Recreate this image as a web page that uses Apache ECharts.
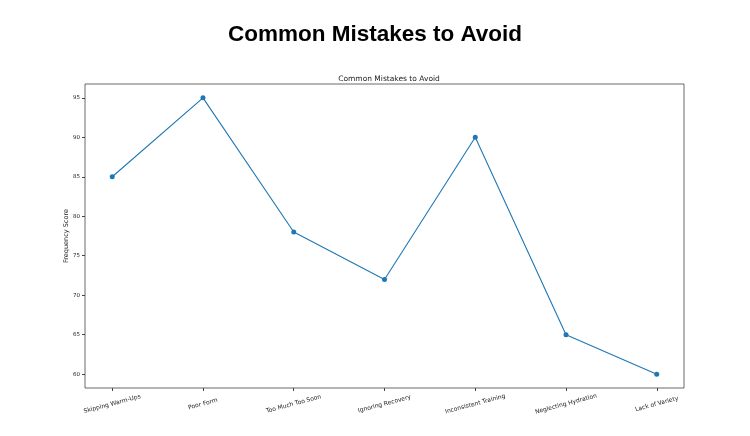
<!DOCTYPE html>
<html lang="en">
<head>
    <meta charset="UTF-8">
    <title>Common Mistakes to Avoid</title>
    <script src="https://cdn.jsdelivr.net/npm/echarts@6/dist/echarts.min.js"></script>
</head>
<style>
    body{
        width: 100%;
        height: 100%;
        margin: 0;
        padding: 0;
        background: #fff;
    }
</style>
<body>
<div id="main" style="width: 750px;height:436px;"></div>
<script>
    // data
    var mistakes = ['Skipping Warm-Ups', 'Poor Form', 'Too Much Too Soon', 'Ignoring Recovery',
        'Inconsistent Training', 'Neglecting Hydration', 'Lack of Variety'];
    var scores = [85, 95, 78, 72, 90, 65, 60];
    var yTicks = [60, 65, 70, 75, 80, 85, 90, 95];

    var xIndex = mistakes.map(function (m, i) { return i; });
    var points = scores.map(function (v, i) { return [i, v]; });

    var chart = echarts.init(document.getElementById('main'));
    var option = {
        animation: false,
        title: [{
            text: 'Common Mistakes to Avoid',
            left: 'center',
            top: 18,
            textStyle: {fontFamily: 'Liberation Sans', fontWeight: 'bold', fontSize: 22.5, color: '#000'}
        }, {
            text: 'Common Mistakes to Avoid',
            left: 384,
            textAlign: 'center',
            top: 70,
            textStyle: {fontFamily: 'DejaVu Sans', fontWeight: 'normal', fontSize: 7.5, color: '#222'}
        }],
        grid: {
            left: 85, right: 66, top: 84, bottom: 48,
            show: true, borderColor: '#444', borderWidth: 0.8, backgroundColor: '#fff'
        },
        xAxis: {
            type: 'value',
            min: -0.3,
            max: 6.3,
            splitLine: {show: false},
            axisLine: {show: false, onZero: false},
            axisTick: {show: true, customValues: xIndex, length: 3, lineStyle: {color: '#444'}},
            axisLabel: {
                customValues: xIndex,
                rotate: 15,
                fontFamily: 'DejaVu Sans',
                fontSize: 6,
                color: '#222',
                margin: 16,
                align: 'center',
                verticalAlign: 'middle',
                formatter: function (v) { return mistakes[v]; }
            }
        },
        yAxis: {
            type: 'value',
            min: 58.25,
            max: 96.75,
            name: 'Frequency Score',
            nameLocation: 'middle',
            nameGap: 15,
            nameMoveOverlap: false,
            nameTextStyle: {fontFamily: 'DejaVu Sans', fontSize: 6.5, color: '#222'},
            splitLine: {show: false},
            axisLine: {show: false, onZero: false},
            axisTick: {show: true, customValues: yTicks, length: 3, lineStyle: {color: '#444'}},
            axisLabel: {customValues: yTicks, fontFamily: 'DejaVu Sans', fontSize: 5.5, color: '#222', margin: 5}
        },
        series: [{
            type: 'line',
            data: points,
            symbol: 'circle',
            symbolSize: 5,
            lineStyle: {color: '#1f77b4', width: 1.1},
            itemStyle: {color: '#1f77b4'}
        }]
    };
    chart.setOption(option);
</script>
</body>
</html>
